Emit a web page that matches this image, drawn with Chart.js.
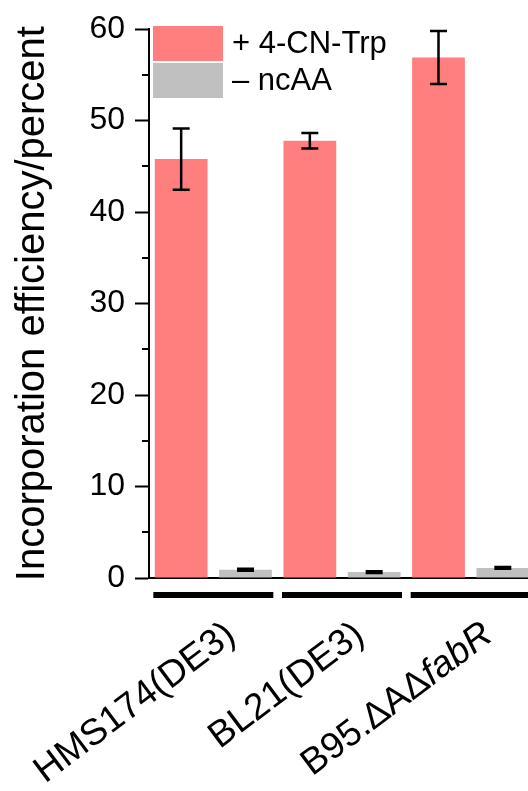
<!DOCTYPE html>
<html>
<head>
<meta charset="utf-8">
<script src="https://cdn.jsdelivr.net/npm/chart.js@4"></script>
<style>
  html, body { margin: 0; padding: 0; background: #fff; overflow: hidden; }
  #wrap { position: relative; width: 528px; height: 791px; overflow: hidden; }
  #efficiencyChart { position: absolute; left: 0; top: 0; }
</style>
</head>
<body>
<div id="wrap"><canvas id="efficiencyChart" width="540" height="791"></canvas></div>
<script>
const strains = ["HMS174(DE3)", "BL21(DE3)", "B95.ΔAΔfabR"];
const strainItalic = ["", "", "fabR"];   // trailing gene name set in italics
const withCnTrp = [45.8, 47.8, 56.9];
const withCnTrpErr = [3.35, 0.85, 2.9];
const noNcAA = [0.9, 0.65, 1.1];
const noNcAAErr = [0.1, 0.1, 0.1];
const yMinorTicks = [5, 15, 25, 35, 45, 55];

const FONT = "'Liberation Sans', Arial, sans-serif";
const LABEL_ANGLE = 37 * Math.PI / 180;

function drawStrainLabel(ctx, text, italicPart, x, y, size) {
    const plain = italicPart ? text.slice(0, text.length - italicPart.length) : text;
    ctx.save();
    ctx.translate(x, y);
    ctx.rotate(-LABEL_ANGLE);
    ctx.textBaseline = "alphabetic";
    ctx.textAlign = "left";
    ctx.font = `${size}px ${FONT}`;
    const wPlain = ctx.measureText(plain).width;
    ctx.font = `italic ${size}px ${FONT}`;
    const wItalic = italicPart ? ctx.measureText(italicPart).width : 0;
    const start = -(wPlain + wItalic);
    ctx.fillStyle = "#000";
    ctx.font = `${size}px ${FONT}`;
    ctx.fillText(plain, start, 0);
    if (italicPart) {
        ctx.font = `italic ${size}px ${FONT}`;
        ctx.fillText(italicPart, start + wPlain, 0);
    }
    ctx.restore();
}

// error bars, minor ticks, strain bars + labels, legend
const barExtras = {
    id: "barExtras",
    afterDatasetsDraw(chart) {
        const ctx = chart.ctx;
        const xs = chart.scales.x;
        const ys = chart.scales.y;
        const area = chart.chartArea;

        ctx.save();
        ctx.strokeStyle = "#000";
        ctx.lineWidth = 2.5;
        chart.data.datasets.forEach((ds, i) => {
            chart.getDatasetMeta(i).data.forEach((bar, j) => {
                const top = ys.getPixelForValue(ds.data[j] + ds.errors[j]);
                const bot = ys.getPixelForValue(ds.data[j] - ds.errors[j]);
                ctx.beginPath();
                ctx.moveTo(bar.x, top);
                ctx.lineTo(bar.x, bot);
                ctx.moveTo(bar.x - 8.5, top);
                ctx.lineTo(bar.x + 8.5, top);
                ctx.moveTo(bar.x - 8.5, bot);
                ctx.lineTo(bar.x + 8.5, bot);
                ctx.stroke();
            });
        });

        // minor ticks on the y axis
        ctx.lineWidth = 2;
        yMinorTicks.forEach(v => {
            const py = Math.round(ys.getPixelForValue(v));
            ctx.beginPath();
            ctx.moveTo(area.left - 7, py);
            ctx.lineTo(area.left, py);
            ctx.stroke();
        });

        // black strain bars under the axis and rotated strain names
        ctx.fillStyle = "#000";
        strains.forEach((name, j) => {
            const cx = xs.getPixelForValue(j);
            ctx.fillRect(cx - 60, area.bottom + 14, 120, 6);
            drawStrainLabel(ctx, name, strainItalic[j], cx + 24, area.bottom + 61, 37);
        });

        // legend
        ctx.font = `31px ${FONT}`;
        ctx.textBaseline = "middle";
        ctx.textAlign = "left";
        chart.data.datasets.forEach((ds, i) => {
            const ty = 26 + i * 37;
            ctx.fillStyle = ds.backgroundColor;
            ctx.fillRect(153, ty, 70, 35);
            ctx.fillStyle = "#000";
            ctx.fillText(ds.label, 232, ty + 18);
        });
        ctx.restore();
    }
};

const ctx = document.getElementById("efficiencyChart").getContext("2d");
new Chart(ctx, {
    type: "bar",
    data: {
        labels: strains,
        datasets: [
            { label: "+ 4-CN-Trp", data: withCnTrp, errors: withCnTrpErr, backgroundColor: "#ff7f7f" },
            { label: "– ncAA", data: noNcAA, errors: noNcAAErr, backgroundColor: "#c0c0c0" }
        ]
    },
    options: {
        responsive: false,
        animation: false,
        layout: { padding: { top: 10, right: 5, left: 0, bottom: 0 } },
        datasets: { bar: { categoryPercentage: 1, barPercentage: 0.82 } },
        plugins: { legend: { display: false }, tooltip: { enabled: false } },
        scales: {
            x: {
                grid: { display: false, drawTicks: false },
                border: { display: true, color: "#000", width: 2 },
                ticks: { display: false },
                afterFit: s => { s.height = 213; }
            },
            y: {
                min: 0,
                max: 60,
                ticks: { stepSize: 10, color: "#000", padding: 10, font: { family: FONT, size: 32 } },
                grid: { drawOnChartArea: false, tickLength: 14, tickWidth: 2, tickColor: "#000" },
                border: { color: "#000", width: 2 },
                title: {
                    display: true,
                    text: "Incorporation efficiency/percent",
                    color: "#000",
                    padding: { top: 9, bottom: 0 },
                    font: { family: FONT, size: 40 }
                },
                afterFit: s => { s.width = 149; }
            }
        }
    },
    plugins: [barExtras]
});
</script>
</body>
</html>
